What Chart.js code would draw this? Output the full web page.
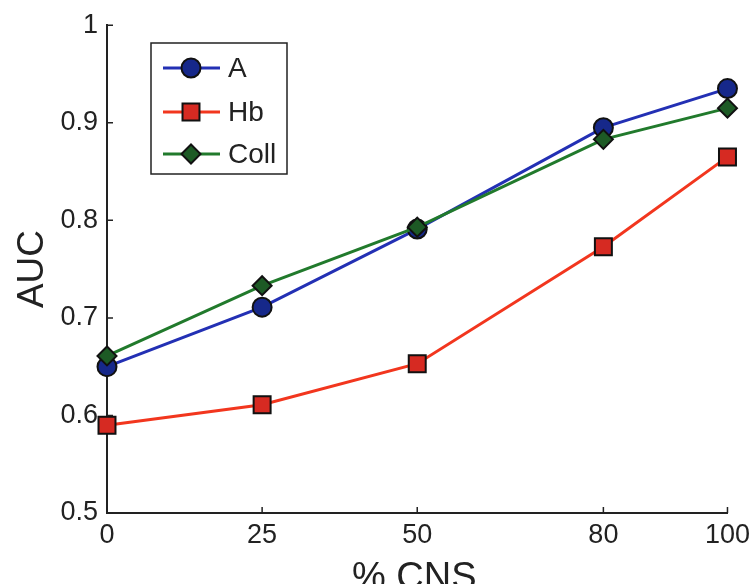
<!DOCTYPE html>
<html>
<head>
<meta charset="utf-8">
<script src="https://cdn.jsdelivr.net/npm/chart.js@4/dist/chart.umd.min.js"></script>
<style>
  html, body { margin: 0; padding: 0; background: #fff; }
  #wrap { width: 756px; height: 584px; }
</style>
</head>
<body>
<div id="wrap"><canvas id="chart" width="756" height="584"></canvas></div>
<script>
// % CNS on x, AUC on y
const cnsPct = [0, 25, 50, 80, 100];
const aucA = [0.650, 0.711, 0.791, 0.895, 0.935];
const aucHb = [0.590, 0.611, 0.653, 0.773, 0.865];
const aucColl = [0.661, 0.733, 0.793, 0.883, 0.915];
const xTicks = [0, 25, 50, 80, 100];
const yTicks = [0.5, 0.6, 0.7, 0.8, 0.9, 1];
const seriesNames = ['A', 'Hb', 'Coll'];

const FONT = '"Liberation Sans", Arial, Helvetica, sans-serif';
const INK = '#222';

const toPts = ys => cnsPct.map((x, i) => ({ x: x, y: ys[i] }));

// ticks point into the plot, like the original figure
const inwardTicks = {
    id: 'inwardTicks',
    afterDatasetsDraw(chart) {
        const { ctx, chartArea, scales } = chart;
        ctx.save();
        ctx.strokeStyle = INK;
        ctx.lineWidth = 1.5;
        ctx.beginPath();
        yTicks.forEach(v => {
            const py = scales.y.getPixelForValue(v);
            ctx.moveTo(chartArea.left, py);
            ctx.lineTo(chartArea.left + 6, py);
        });
        xTicks.forEach(v => {
            const px = scales.x.getPixelForValue(v);
            ctx.moveTo(px, chartArea.bottom);
            ctx.lineTo(px, chartArea.bottom - 6);
        });
        ctx.stroke();
        ctx.restore();
    }
};

// axis titles + boxed legend inside the plot
const decorations = {
    id: 'decorations',
    afterDraw(chart) {
        const { ctx, chartArea } = chart;
        ctx.save();
        ctx.fillStyle = INK;
        ctx.font = '38px ' + FONT;
        ctx.textAlign = 'center';
        ctx.textBaseline = 'alphabetic';
        ctx.fillText('% CNS', (chartArea.left + chartArea.right) / 2 - 3, 589);

        ctx.save();
        ctx.translate(43, 269);
        ctx.rotate(-Math.PI / 2);
        ctx.font = '37px ' + FONT;
        ctx.fillText('AUC', 0, 0);
        ctx.restore();

        // legend box
        const bx = 151, by = 43, bw = 136, bh = 131;
        ctx.fillStyle = '#fff';
        ctx.fillRect(bx, by, bw, bh);
        ctx.strokeStyle = INK;
        ctx.lineWidth = 1.5;
        ctx.strokeRect(bx, by, bw, bh);

        const rows = [68, 112, 154];
        chart.data.datasets.forEach((ds, i) => {
            const y = rows[i];
            ctx.strokeStyle = ds.borderColor;
            ctx.lineWidth = ds.borderWidth;
            ctx.beginPath();
            ctx.moveTo(163, y);
            ctx.lineTo(220, y);
            ctx.stroke();
            ctx.fillStyle = ds.pointBackgroundColor;
            ctx.strokeStyle = ds.pointBorderColor;
            ctx.lineWidth = ds.pointBorderWidth;
            Chart.helpers.drawPoint(ctx, { pointStyle: ds.pointStyle, radius: ds.pointRadius, rotation: 0, borderWidth: ds.pointBorderWidth }, 191, y);
            ctx.fillStyle = INK;
            ctx.font = '28px ' + FONT;
            ctx.textAlign = 'left';
            ctx.textBaseline = 'middle';
            ctx.fillText(seriesNames[i], 228, y + 1);
        });
        ctx.restore();
    }
};

function series(label, ys, line, fill, style, radius, order) {
    return {
        label: label,
        data: toPts(ys),
        borderColor: line,
        borderWidth: 3,
        pointStyle: style,
        pointRadius: radius,
        pointHoverRadius: radius,
        pointBackgroundColor: fill,
        pointBorderColor: '#111',
        pointBorderWidth: 2,
        tension: 0,
        order: order
    };
}

new Chart(document.getElementById('chart'), {
    type: 'line',
    data: {
        datasets: [
            series(seriesNames[0], aucA, '#2330b4', '#16288a', 'circle', 9.5, 3),
            series(seriesNames[1], aucHb, '#f2361e', '#d62a22', 'rect', 12, 2),
            series(seriesNames[2], aucColl, '#217a2c', '#1d5a25', 'rectRot', 9.5, 1)
        ]
    },
    options: {
        responsive: false,
        animation: false,
        events: [],
        clip: false,
        layout: { padding: { left: 0, right: 27, top: 23, bottom: 0 } },
        plugins: { legend: { display: false }, tooltip: { enabled: false } },
        scales: {
            x: {
                type: 'linear',
                min: 0,
                max: 100,
                afterBuildTicks: s => { s.ticks = xTicks.map(v => ({ value: v })); },
                afterFit: s => { s.height = 71; },
                grid: { display: false, drawTicks: false },
                border: { display: true, color: INK, width: 2 },
                ticks: { color: INK, font: { family: FONT, size: 27 }, padding: 6, maxRotation: 0, callback: v => String(v) }
            },
            y: {
                type: 'linear',
                min: 0.5,
                max: 1,
                afterBuildTicks: s => { s.ticks = yTicks.map(v => ({ value: v })); },
                afterFit: s => { s.width = 107; },
                grid: { display: false, drawTicks: false },
                border: { display: true, color: INK, width: 2 },
                ticks: { color: INK, font: { family: FONT, size: 27 }, padding: 9, callback: v => String(v) }
            }
        }
    },
    plugins: [inwardTicks, decorations]
});
</script>
</body>
</html>
